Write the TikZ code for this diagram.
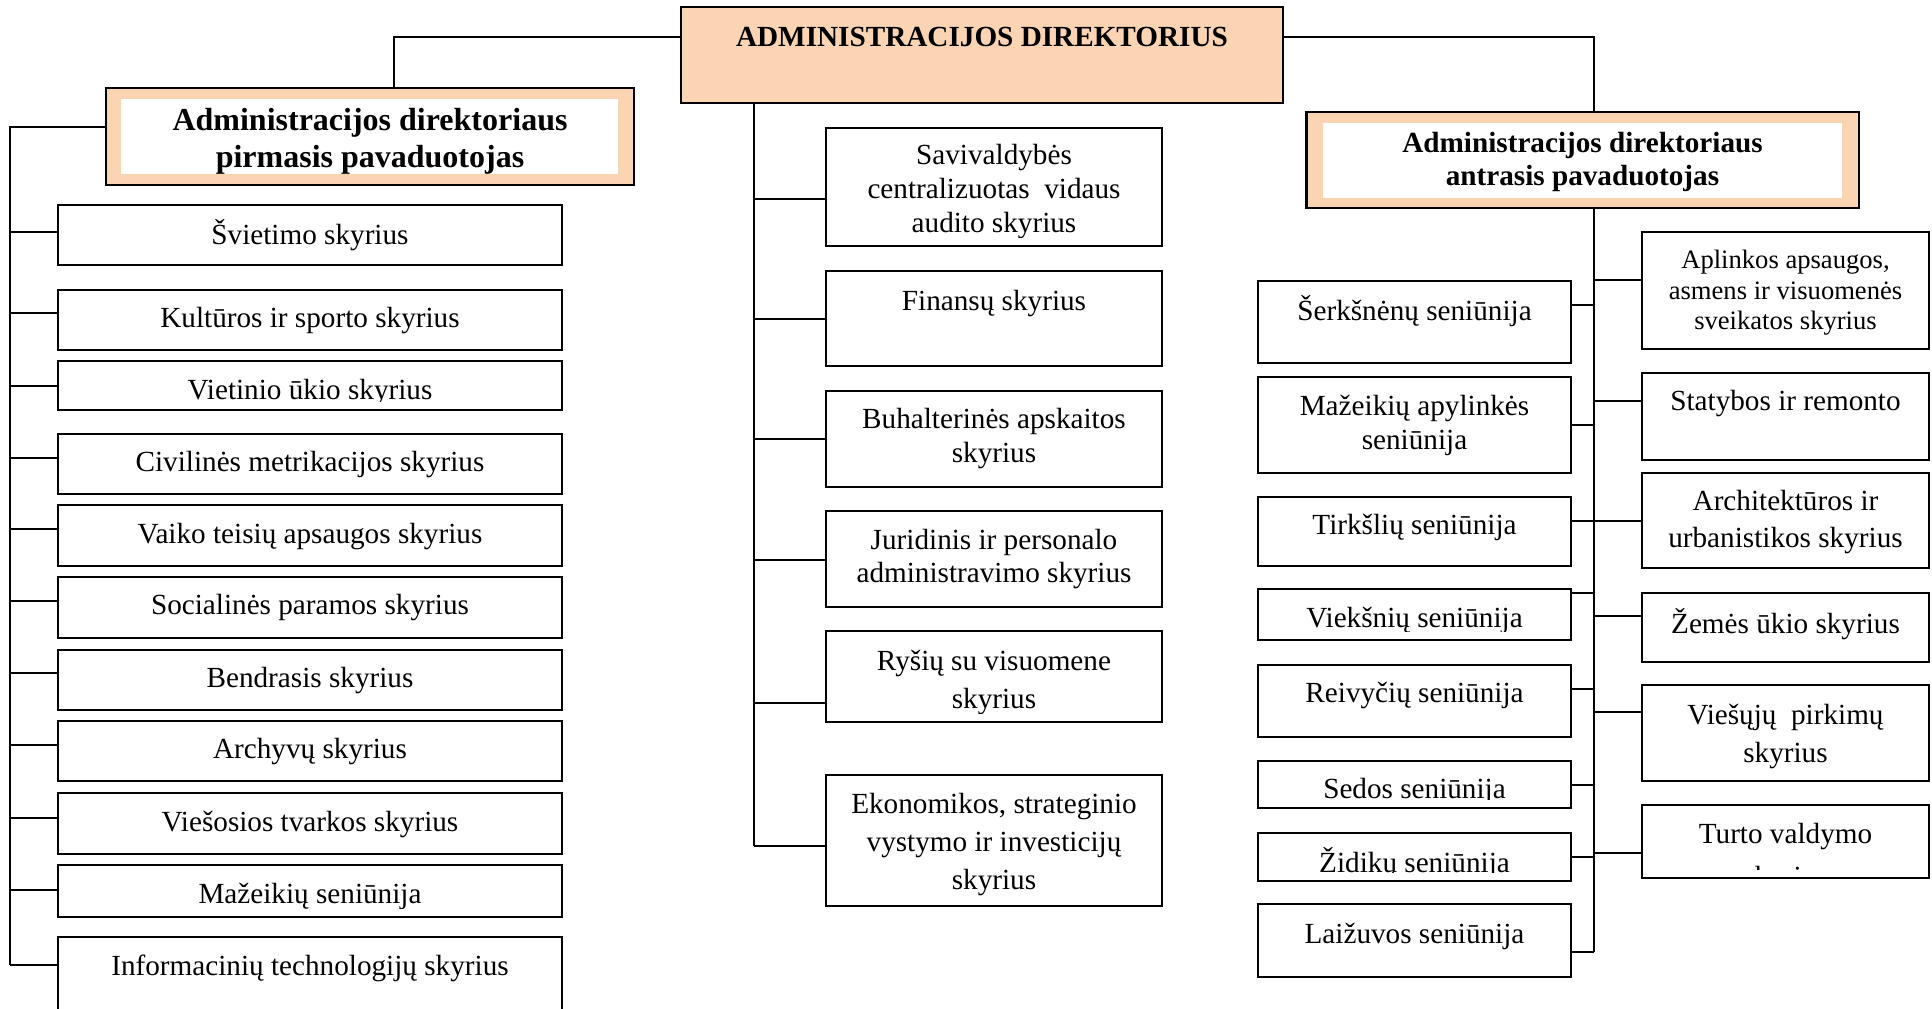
\documentclass[tikz,border=0pt]{standalone}
\usepackage{fontspec}
\setmainfont{Liberation Serif}
\definecolor{peach}{HTML}{FBD4B4}
\tikzset{
  box/.style={draw=black, line width=1.1pt, fill=white, inner sep=0pt, outer sep=0pt},
  depbox/.style={draw=black, line width=1.1pt, fill=peach, inner sep=0pt, outer sep=0pt},
  inbox/.style={fill=white, draw=none, inner sep=0pt, outer sep=0pt},
  conn/.style={draw=black, line width=1pt},
  txt/.style={align=center, inner sep=0pt, text=black},
}
% name, x1, y1, x2, y2, text centre y, font, text
\newcommand\ubox[8]{%
  \node[box, minimum width={(#4-#2)*0.5pt}, minimum height={(#5-#3)*0.5pt}] (#1) at ({(#2+#4)/2},{(#3+#5)/2}) {};
  \begin{scope}
    \clip (#2,#3) rectangle (#4,{#5-9});
    \node[txt, font={#7}] (#1-t) at ({(#2+#4)/2},{#6+3}) {#8};
  \end{scope}}
\newcommand\fN{\fontsize{14.6}{17}\selectfont}
\begin{document}
\begin{tikzpicture}[x=0.5pt,y=-0.5pt]
\useasboundingbox (0,0) rectangle (1932,1008);

% top box
\node[depbox, minimum width={602*0.5pt}, minimum height={96*0.5pt}] (dir) at (982,55) {};
\node[txt, font={\fontsize{14.6}{17}\selectfont\bfseries}] (dir-t) at (982,36.5) {ADMINISTRACIJOS DIREKTORIUS};

% left deputy
\node[depbox, minimum width={528*0.5pt}, minimum height={97*0.5pt}] (ldep) at (370,136.5) {};
\node[inbox, minimum width={497*0.5pt}, minimum height={75*0.5pt}] (ldep-in) at (369.5,136.5) {};
\node[txt, font={\fontsize{16}{18.5}\selectfont\bfseries}] (ldep-t) at (370,141.5) {Administracijos direktoriaus\\pirmasis pavaduotojas};

% right deputy
\node[depbox, minimum width={552.5*0.5pt}, minimum height={96*0.5pt}] (rdep) at (1582.75,160) {};
\node[inbox, minimum width={519*0.5pt}, minimum height={75*0.5pt}] (rdep-in) at (1582.5,160.5) {};
\node[txt, font={\fontsize{14.6}{16.5}\selectfont\bfseries}] (rdep-t) at (1582.5,161.5) {Administracijos direktoriaus\\antrasis pavaduotojas};

% left column
\ubox{l1}{58}{205}{562}{265}{232}{\fN}{Švietimo skyrius}
\ubox{l2}{58}{290}{562}{350}{318}{\fN}{Kultūros ir sporto skyrius}
\ubox{l3}{58}{361}{562}{410}{390}{\fN}{Vietinio ūkio skyrius}
\ubox{l4}{58}{434}{562}{494}{462}{\fN}{Civilinės metrikacijos skyrius}
\ubox{l5}{58}{505}{562}{566}{533.5}{\fN}{Vaiko teisių apsaugos skyrius}
\ubox{l6}{58}{577}{562}{638}{605}{\fN}{Socialinės paramos skyrius}
\ubox{l7}{58}{650}{562}{710}{677.6}{\fN}{Bendrasis skyrius}
\ubox{l8}{58}{721}{562}{781}{749}{\fN}{Archyvų skyrius}
\ubox{l9}{58}{793}{562}{854}{821.7}{\fN}{Viešosios tvarkos skyrius}
\ubox{l10}{58}{865}{562}{917}{893}{\fN}{Mažeikių seniūnija}
\ubox{l11}{58}{937}{562}{1040}{965}{\fN}{Informacinių technologijų skyrius}

% middle column
\ubox{m1}{826}{128}{1162}{246}{189}{\fN}{Savivaldybės\\centralizuotas\ \ vidaus\\audito skyrius}
\ubox{m2}{826}{271}{1162}{366}{300.6}{\fN}{Finansų skyrius}
\ubox{m3}{826}{391}{1162}{487}{436}{\fN}{Buhalterinės apskaitos\\skyrius}
\ubox{m4}{826}{511}{1162}{607}{556.5}{\fontsize{14.6}{16.5}\selectfont}{Juridinis ir personalo\\administravimo skyrius}
\ubox{m5}{826}{631}{1162}{722}{679}{\fontsize{14.6}{19}\selectfont}{Ryšių su visuomene\\skyrius}
\ubox{m6}{826}{775}{1162}{906}{841.5}{\fontsize{14.6}{19.2}\selectfont}{Ekonomikos, strateginio\\vystymo ir investicijų\\skyrius}

% right column, inner sub-column
\ubox{r1}{1258}{281}{1571}{363}{308}{\fN}{Šerkšnėnų seniūnija}
\ubox{r2}{1258}{377}{1571}{473}{422}{\fN}{Mažeikių apylinkės\\seniūnija}
\ubox{r3}{1258}{497}{1571}{566}{524}{\fN}{Tirkšlių seniūnija}
\ubox{r4}{1258}{589}{1571}{640}{617.5}{\fN}{Viekšnių seniūnija}
\ubox{r5}{1258}{665}{1571}{737}{692.5}{\fN}{Reivyčių seniūnija}
\ubox{r6}{1258}{761}{1571}{808}{788}{\fN}{Sedos seniūnija}
\ubox{r7}{1258}{833}{1571}{881}{860}{\fN}{Židikų seniūnija}
\ubox{r8}{1258}{904}{1571}{977}{933}{\fN}{Laižuvos seniūnija}

% right column, outer sub-column
\ubox{q1}{1642}{232}{1929}{349}{290}{\fontsize{13.3}{15.25}\selectfont}{Aplinkos apsaugos,\\asmens ir visuomenės\\sveikatos skyrius}
\ubox{q2}{1642}{373}{1929}{460}{401}{\fN}{Statybos ir remonto}
\ubox{q3}{1642}{473}{1929}{568}{519.5}{\fontsize{14.6}{18.5}\selectfont}{Architektūros ir\\urbanistikos skyrius}
\ubox{q4}{1642}{593}{1929}{662}{621}{\fN}{Žemės ūkio skyrius}
\ubox{q5}{1642}{685}{1929}{781}{733.5}{\fontsize{14.6}{19}\selectfont}{Viešųjų\ \ pirkimų\\skyrius}
\ubox{q6}{1642}{805}{1929}{878}{855}{\fontsize{14.6}{21.5}\selectfont}{Turto valdymo\\skyrius}

% top connectors
\coordinate (TL) at (394,37);
\coordinate (TR) at (1594,37);
\draw[conn] (dir.west |- TL) -- (TL) -- (TL |- ldep.north);
\draw[conn] (dir.east |- TR) -- (TR) -- (TR |- rdep.north);

% left connectors
\coordinate (LS) at (10,127);
\foreach \n/\y in {l1/232,l2/313,l3/386,l4/458,l5/529,l6/601,l7/673,l8/745,l9/818,l10/890,l11/965}{
  \coordinate (\n-c) at (10,\y);
  \draw[conn] (\n-c) -- (\n-c -| \n.west);
}
\draw[conn] (ldep.west |- LS) -- (LS) -- (l11-c);

% middle connectors
\foreach \n/\y in {m1/199,m2/319,m3/439,m4/560,m5/703,m6/846}{
  \coordinate (\n-c) at (754,\y);
  \draw[conn] (\n-c) -- (\n-c -| \n.west);
}
\draw[conn] (m6-c |- dir.south) -- (m6-c);

% right connectors
\foreach \n/\y in {r1/305,r2/425,r3/521,r4/593,r5/689,r6/785,r7/857,r8/952}{
  \coordinate (\n-c) at (1594,\y);
  \draw[conn] (\n-c) -- (\n-c -| \n.east);
}
\foreach \n/\y in {q1/280,q2/401,q3/521,q4/616,q5/712,q6/853}{
  \coordinate (\n-c) at (1594,\y);
  \draw[conn] (\n-c) -- (\n-c -| \n.west);
}
\draw[conn] (r8-c |- rdep.south) -- (r8-c);
\end{tikzpicture}
\end{document}
